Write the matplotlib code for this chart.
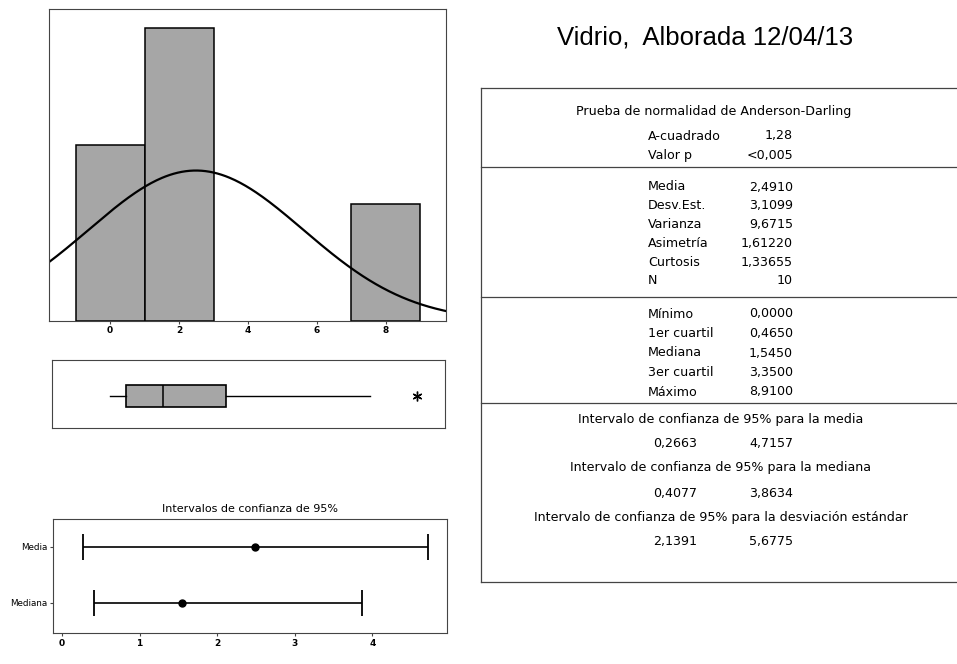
import numpy as np
import matplotlib
matplotlib.use("Agg")
import matplotlib.pyplot as plt

W, H = 957, 664

# histograma
bin_edges = [-1, 1, 3, 5, 7, 9]
bin_counts = [3, 5, 0, 0, 2]
hist_ticks = [0, 2, 4, 6, 8]
media = 2.4910
desv_est = 3.1099
n_datos = 10

# grafica de caja
q1 = 0.4650
mediana = 1.5450
q3 = 3.3500
bigote_inf = 0.0
bigote_sup = 7.54
atipicos = [8.91]

# intervalos de confianza
ci_labels = ["Media", "Mediana"]
ci_centro = [2.4910, 1.5450]
ci_inf = [0.2663, 0.4077]
ci_sup = [4.7157, 3.8634]
ci_ticks = [0, 1, 2, 3, 4]

# tabla de resumen
titulo = "Vidrio,  Alborada 12/04/13"
ad_titulo = "Prueba de normalidad de Anderson-Darling"
ad_labels = ["A-cuadrado", "Valor p"]
ad_values = ["1,28", "<0,005"]
mom_labels = ["Media", "Desv.Est.", "Varianza", "Asimetría", "Curtosis", "N"]
mom_values = ["2,4910", "3,1099", "9,6715", "1,61220", "1,33655", "10"]
cuart_labels = ["Mínimo", "1er cuartil", "Mediana", "3er cuartil", "Máximo"]
cuart_values = ["0,0000", "0,4650", "1,5450", "3,3500", "8,9100"]
ic_titulos = ["Intervalo de confianza de 95% para la media",
              "Intervalo de confianza de 95% para la mediana",
              "Intervalo de confianza de 95% para la desviación estándar"]
ic_valores = [("0,2663", "4,7157"), ("0,4077", "3,8634"), ("2,1391", "5,6775")]

BAR_GRAY = "#a6a6a6"
LINE_GRAY = "#444444"


def px_rect(left, top, right, bottom):
    # pixel box -> figure fraction [l, b, w, h]
    return [left / W, 1 - bottom / H, (right - left) / W, (bottom - top) / H]


def style_spines(ax):
    for s in ax.spines.values():
        s.set_color(LINE_GRAY)
        s.set_linewidth(0.8)


fig = plt.figure(figsize=(W / 100, H / 100), dpi=100)
fig.patch.set_facecolor("white")

# overlay for table and title, in pixel coords
bg = fig.add_axes([0, 0, 1, 1])
bg.set_xlim(0, W)
bg.set_ylim(H, 0)
bg.axis("off")
bg.set_zorder(-1)

# --- histogram
ax_h = fig.add_axes(px_rect(49, 9, 446, 321))
lefts = bin_edges[:-1]
widths = np.diff(bin_edges)
ax_h.bar(lefts, bin_counts, width=widths, align="edge", color=BAR_GRAY,
         edgecolor="black", linewidth=[1.1 if c > 0 else 0 for c in bin_counts])
x0, x1 = (49 - 110) / 34.5, (446 - 110) / 34.5
xs = np.linspace(x0, x1, 300)
bw = bin_edges[1] - bin_edges[0]
curva = n_datos * bw / (desv_est * np.sqrt(2 * np.pi)) * np.exp(-0.5 * ((xs - media) / desv_est) ** 2)
ax_h.plot(xs, curva, color="black", linewidth=1.6)
ax_h.set_xlim(x0, x1)
ax_h.set_ylim(0, 5.32)
ax_h.set_yticks([])
ax_h.set_xticks(hist_ticks)
ax_h.set_xticklabels([str(t) for t in hist_ticks], fontsize=6.5, fontweight="bold")
ax_h.tick_params(axis="x", length=2, pad=1.5, color=LINE_GRAY)
style_spines(ax_h)

# --- boxplot
ax_b = fig.add_axes(px_rect(52, 360, 445, 428))
stats = [{"med": mediana, "q1": q1, "q3": q3, "whislo": bigote_inf,
          "whishi": bigote_sup, "fliers": atipicos}]
ax_b.bxp(stats, positions=[0.47], widths=0.32, vert=False, patch_artist=True,
         showcaps=False,
         boxprops=dict(facecolor=BAR_GRAY, edgecolor="black", linewidth=1.2),
         medianprops=dict(color="black", linewidth=1.1),
         whiskerprops=dict(color="black", linewidth=1.0),
         flierprops=dict(marker=(6, 2, 0), markersize=7, markerfacecolor="black",
                         markeredgecolor="black", markeredgewidth=1.0))
ax_b.set_xlim((52 - 110) / 34.5, (445 - 110) / 34.5)
ax_b.set_ylim(0, 1)
ax_b.set_xticks([])
ax_b.set_yticks([])
style_spines(ax_b)

# --- confidence intervals
ax_c = fig.add_axes(px_rect(53, 519, 447, 633))
ypos = [1, 0]
ci_centro_a = np.array(ci_centro)
xerr = [ci_centro_a - np.array(ci_inf), np.array(ci_sup) - ci_centro_a]
ax_c.errorbar(ci_centro, ypos, xerr=xerr, fmt="o", color="black", markersize=5,
              elinewidth=1.2, capsize=9.5, capthick=1.3)
ax_c.set_xlim((53 - 62) / 77.6, (447 - 62) / 77.6)
ax_c.set_ylim(-0.536, 1.5)
ax_c.set_yticks(ypos)
ax_c.set_yticklabels(ci_labels, fontsize=6.3)
ax_c.set_xticks(ci_ticks)
ax_c.set_xticklabels([str(t) for t in ci_ticks], fontsize=6.5, fontweight="bold")
ax_c.tick_params(length=2, pad=2, color=LINE_GRAY)
ax_c.set_title("Intervalos de confianza de 95%", fontsize=8, pad=5)
style_spines(ax_c)

# --- title
bg.text(705, 38, titulo, fontsize=18.5, family="Liberation Sans",
        ha="center", va="center")

# --- summary table
fs = 9.1
cx = 719
lab_x = 648
val_x = 793
for y in [88, 167, 297, 403, 582]:
    bg.plot([481, W], [y, y], color=LINE_GRAY, linewidth=0.9)
bg.plot([481, 481], [88, 582], color=LINE_GRAY, linewidth=0.9)

bg.text(cx - 5, 112, ad_titulo, fontsize=fs, ha="center", va="center")
for i, (l, v) in enumerate(zip(ad_labels, ad_values)):
    y = 136 + i * 19
    bg.text(lab_x, y, l, fontsize=fs, ha="left", va="center")
    bg.text(val_x, y, v, fontsize=fs, ha="right", va="center")
for i, (l, v) in enumerate(zip(mom_labels, mom_values)):
    y = 187 + i * 18.8
    bg.text(lab_x, y, l, fontsize=fs, ha="left", va="center")
    bg.text(val_x, y, v, fontsize=fs, ha="right", va="center")
for i, (l, v) in enumerate(zip(cuart_labels, cuart_values)):
    y = 314 + i * 19.5
    bg.text(lab_x, y, l, fontsize=fs, ha="left", va="center")
    bg.text(val_x, y, v, fontsize=fs, ha="right", va="center")
for i, (t, (a, b)) in enumerate(zip(ic_titulos, ic_valores)):
    y = 419 + i * 49
    bg.text(cx + 2, y, t, fontsize=fs, ha="center", va="center")
    bg.text(697, y + 25, a, fontsize=fs, ha="right", va="center")
    bg.text(val_x, y + 25, b, fontsize=fs, ha="right", va="center")

fig.savefig("out.png", dpi=100)
